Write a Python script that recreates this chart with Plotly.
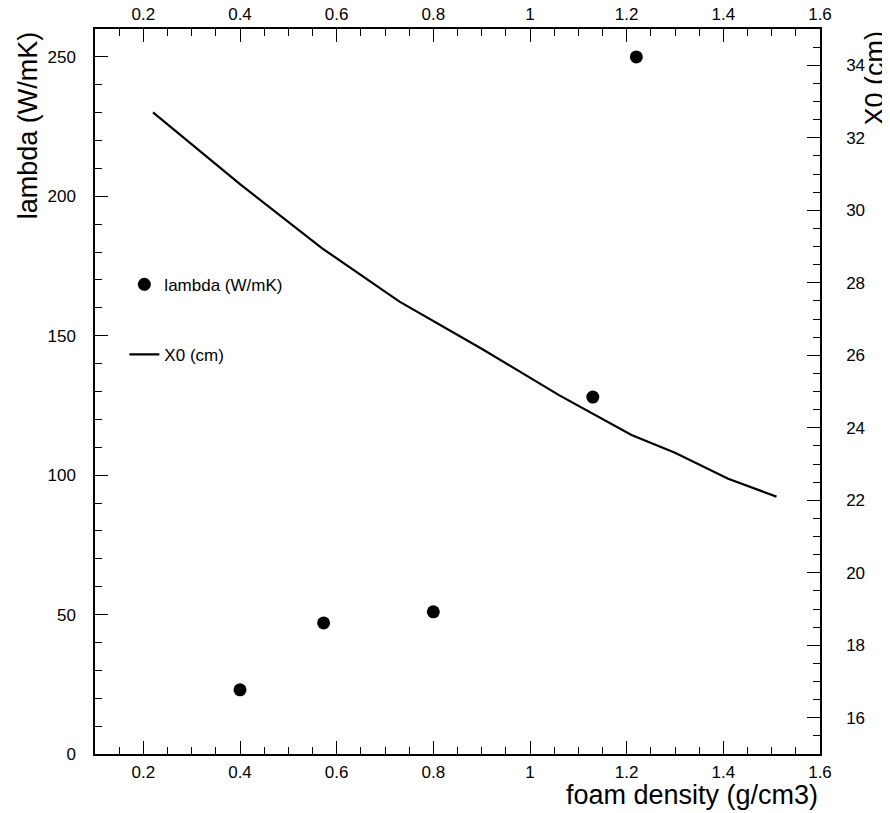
import plotly.graph_objects as go

# data
density_pts = [0.40, 0.573, 0.80, 1.13, 1.22]
lambda_vals = [23, 47, 51, 128, 250]

density_line = [0.22, 0.40, 0.57, 0.73, 0.90, 1.06, 1.21, 1.30, 1.41, 1.51]
x0_vals = [32.70, 30.72, 28.95, 27.48, 26.18, 24.90, 23.80, 23.31, 22.59, 22.10]

FONT = "Liberation Sans, Arial, Helvetica, sans-serif"
TICKFS = 17
TITLEFS = 27

fig = go.Figure()
fig.add_trace(go.Scatter(
    x=density_pts, y=lambda_vals, mode="markers", name="lambda (W/mK)",
    marker=dict(color="black", size=13), legendgroup="a",
    xaxis="x", yaxis="y"))
fig.add_trace(go.Scatter(
    x=density_line, y=x0_vals, mode="lines", name="X0 (cm)",
    line=dict(color="black", width=2.2), legendgroup="b",
    xaxis="x2", yaxis="y2"))

common = dict(showgrid=False, zeroline=False, showline=True, linecolor="black",
              linewidth=1.5, ticks="inside", ticklen=13, tickwidth=1,
              tickcolor="black", automargin=False,
              tickfont=dict(family=FONT, size=TICKFS, color="black"))

fig.update_layout(
    width=882, height=805,
    margin=dict(l=87, r=70, t=21, b=59, autoexpand=False),
    paper_bgcolor="white", plot_bgcolor="white",
    font=dict(family=FONT, color="black"),
    xaxis=dict(range=[0.1, 1.6], tickvals=[0.2, 0.4, 0.6, 0.8, 1.0, 1.2, 1.4, 1.6],
               minor=dict(ticks="inside", ticklen=7, dtick=0.05, tick0=0.1, tickcolor="black"),
               ticklabelstandoff=2, **common),
    xaxis2=dict(range=[0.1, 1.6], tickvals=[0.2, 0.4, 0.6, 0.8, 1.0, 1.2, 1.4, 1.6],
                overlaying="x", side="top", anchor="y2",
                minor=dict(ticks="inside", ticklen=7, dtick=0.05, tick0=0.1, tickcolor="black"),
                ticklabelstandoff=0, **common),
    yaxis=dict(range=[0, 260], tickvals=[0, 50, 100, 150, 200, 250],
               minor=dict(ticks="inside", ticklen=7, dtick=10, tick0=0, tickcolor="black"),
               ticklabelstandoff=14, **common),
    yaxis2=dict(range=[15, 35], tickvals=[16, 18, 20, 22, 24, 26, 28, 30, 32, 34],
                overlaying="y", side="right", anchor="x2",
                minor=dict(ticks="inside", ticklen=7, dtick=0.5, tick0=15, tickcolor="black"),
                ticklabelstandoff=21, **common),
    showlegend=True,
    legend=dict(x=0.0405, y=0.672, xanchor="left", yanchor="top",
                bgcolor="rgba(0,0,0,0)", borderwidth=0,
                font=dict(family=FONT, size=TICKFS, color="black"),
                traceorder="grouped", tracegroupgap=45),
    annotations=[
        dict(text="lambda (W/mK)", xref="paper", yref="paper", x=-0.092, y=1.0,
             xanchor="center", yanchor="top", textangle=-90, showarrow=False,
             font=dict(family=FONT, size=TITLEFS, color="black")),
        dict(text="X0 (cm)", xref="paper", yref="paper", x=1.0745, y=1.0,
             xanchor="center", yanchor="top", textangle=-90, showarrow=False,
             font=dict(family=FONT, size=TITLEFS, color="black")),
        dict(text="foam density (g/cm3)", xref="paper", yref="paper", x=1.0, y=-0.0566,
             xanchor="right", yanchor="middle", showarrow=False,
             font=dict(family=FONT, size=TITLEFS, color="black")),
    ],
)

fig.write_html("out.html")
